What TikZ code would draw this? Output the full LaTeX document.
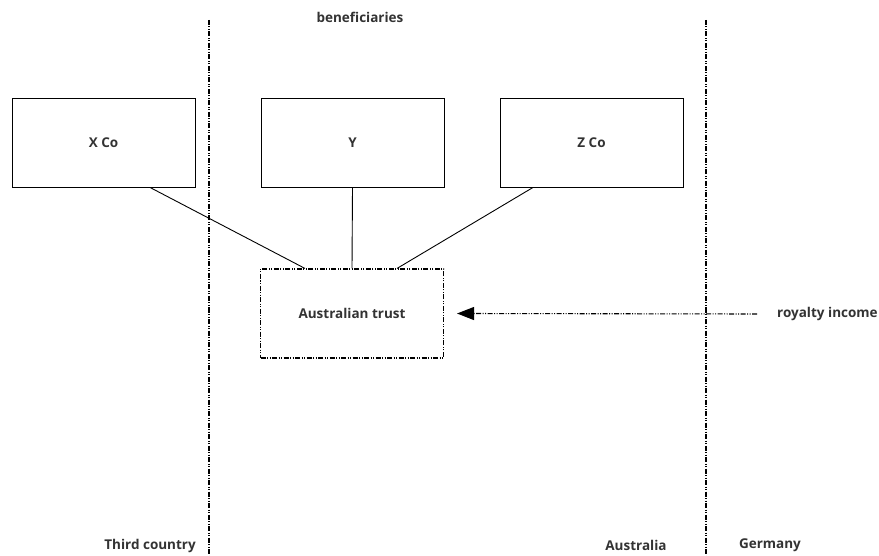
\documentclass[tikz,border=0pt]{standalone}
\usepackage{fontspec}
\setmainfont{Open Sans}
\usetikzlibrary{arrows.meta}
\definecolor{ink}{HTML}{333333}
\tikzset{
  txt/.style={font=\bfseries\fontsize{13.5}{16}\selectfont, text=ink},
  entity/.style={draw=black, line width=0.9pt, minimum width=183pt, minimum height=89pt, inner sep=0pt, txt},
  dashdotdot/.style={line width=1.1pt, dash pattern=on 5pt off 1.5pt on 1pt off 1.5pt on 1pt off 1.5pt},
  label/.style={txt, inner sep=0pt},
  link/.style={draw=black, line width=0.9pt}
}
\begin{document}
\begin{tikzpicture}[x=1pt, y=-1pt]
  \useasboundingbox (0,0) rectangle (879,556);

  % borders between jurisdictions
  \coordinate (b1top) at (209,20);
  \coordinate (b1bot) at (209,556);
  \coordinate (b2top) at (706,20);
  \coordinate (b2bot) at (706,556);
  \draw[dashdotdot] (b1top) -- (b1bot);
  \draw[dashdotdot] (b2top) -- (b2bot);

  % beneficiaries
  \node[entity] (xco) at (103.5,142.5) {X Co};
  \node[entity] (y)   at (352.5,142.5) {Y};
  \node[entity] (zco) at (591.5,142.5) {Z Co};
  \node[label] (ben) at (360,17) {beneficiaries};

  % trust
  \node[entity, draw=black, dashdotdot] (trust) at (352,313.5) {Australian trust};

  \draw[link] ([xshift=46.5pt]xco.south) -- ([xshift=-47pt]trust.north);
  \draw[link] (y.south) -- (trust.north);
  \draw[link] ([xshift=-58.5pt]zco.south) -- ([xshift=45pt]trust.north);

  % royalty flow
  \node[label, anchor=west] (roy) at (777,314) {royalty income};
  \coordinate (roystart) at (757,314);
  \draw[dashdotdot, -{Triangle[length=17pt, width=13pt]}] (roystart) -- ([xshift=13pt]trust.east);

  % jurisdiction labels
  \node[label, anchor=east] (third) at (196,546) {Third country};
  \node[label] (aus) at (636,545) {Australia};
  \node[label] (ger) at (770,545) {Germany};
\end{tikzpicture}
\end{document}
